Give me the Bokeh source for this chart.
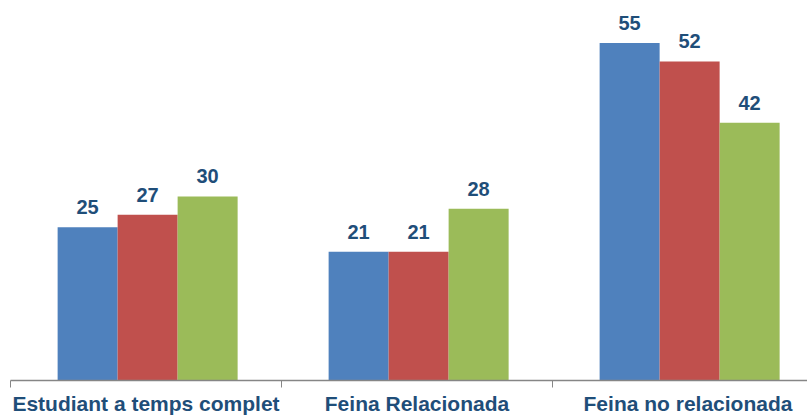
from bokeh.plotting import figure
from bokeh.models import ColumnDataSource, Range1d, FixedTicker, LabelSet
from bokeh.core.properties import value
from bokeh.embed import file_html
from bokeh.resources import INLINE

categories = ["Estudiant a temps complet", "Feina Relacionada", "Feina no relacionada"]
series_a = [25, 21, 55]
series_b = [27, 21, 52]
series_c = [30, 28, 42]
colors = ["#4F81BD", "#C0504D", "#9BBB59"]

p = figure(frame_width=797, frame_height=373, output_backend="svg", toolbar_location=None,
           x_range=Range1d(0, 797 / 271), y_range=Range1d(0, 60.8),
           min_border_left=10, min_border_right=0, min_border_top=7, min_border_bottom=0)
p.outline_line_color = None
p.grid.grid_line_color = None
p.yaxis.visible = False

centers = [i + 0.5 for i in range(len(categories))]
bw = 60 / 271
offsets = [-bw + 0.006, 0.006, bw + 0.006]
for vals, off, col in zip([series_a, series_b, series_c], offsets, colors):
    src = ColumnDataSource(dict(x=[c + off for c in centers], top=vals,
                                lab=[str(v) for v in vals]))
    p.vbar(x="x", top="top", width=bw, bottom=0, source=src,
           fill_color=col, line_color=None)
    p.add_layout(LabelSet(x="x", y="top", text="lab", source=src,
                          text_align="center", text_baseline="bottom",
                          y_offset=13, text_font=value("Liberation Sans"),
                          text_font_style="bold", text_font_size="20px",
                          text_color="#1F4E79"))

ax = p.xaxis[0]
ax.ticker = FixedTicker(ticks=centers, minor_ticks=[0, 1, 2, 3])
ax.major_label_overrides = {c: n for c, n in zip(centers, categories)}
ax.major_tick_out = 0
ax.major_tick_in = 0
ax.minor_tick_out = 7
ax.minor_tick_in = 0
ax.minor_tick_line_color = "#868686"
ax.axis_line_color = "#868686"
ax.axis_line_width = 1.5
ax.major_label_standoff = 4
ax.major_label_text_font = "Liberation Sans"
ax.major_label_text_font_style = "bold"
ax.major_label_text_font_size = "21px"
ax.major_label_text_color = "#1F4E79"

open("out.html", "w").write(file_html(p, INLINE))
